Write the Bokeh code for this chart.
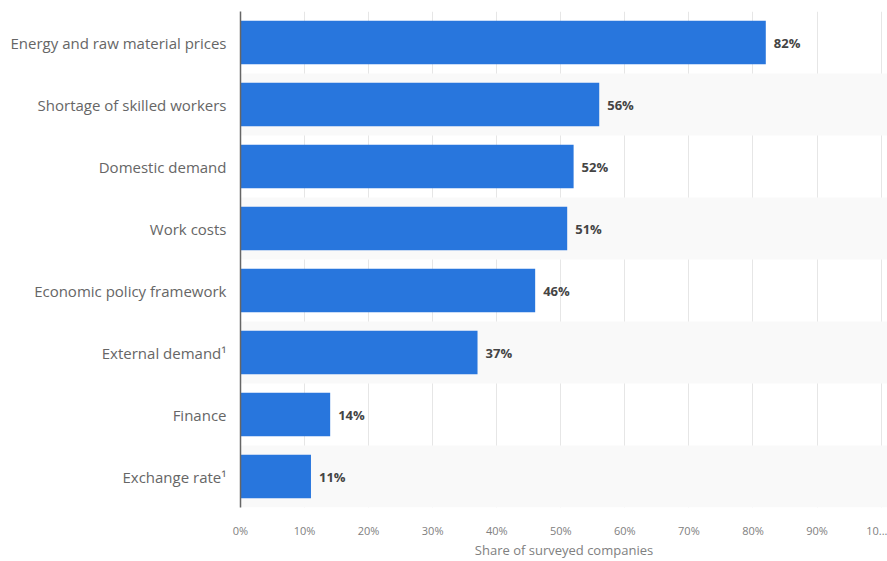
from bokeh.plotting import figure
from bokeh.models import ColumnDataSource, FixedTicker, Range1d, FactorRange
from bokeh.core.properties import value
from bokeh.embed import file_html
from bokeh.resources import INLINE

categories = [
    "Energy and raw material prices",
    "Shortage of skilled workers",
    "Domestic demand",
    "Work costs",
    "Economic policy framework",
    "External demand¹",
    "Finance",
    "Exchange rate¹",
]
shares = [82, 56, 52, 51, 46, 37, 14, 11]
x_ticks = [0, 10, 20, 30, 40, 50, 60, 70, 80, 90, 100]
x_tick_labels = ["0%", "10%", "20%", "30%", "40%", "50%", "60%", "70%", "80%", "90%", "10..."]

FONT = "Open Sans"
y_order = list(reversed(categories))

src = ColumnDataSource(dict(
    cat=categories,
    share=shares,
    label=[f"{v}%" for v in shares],
))
band_cats = [c for i, c in enumerate(categories) if i % 2 == 1]
band_src = ColumnDataSource(dict(cat=band_cats, left=[0] * len(band_cats), right=[200] * len(band_cats)))

p = figure(
    width=887, height=561,
    y_range=FactorRange(factors=y_order, range_padding=0),
    x_range=Range1d(0, 101),
    output_backend="svg", toolbar_location=None,
    min_border_left=240, min_border_right=0, min_border_top=11, min_border_bottom=40,
)
p.outline_line_color = None
p.background_fill_color = "white"

p.hbar(y="cat", left="left", right="right", height=1.0, source=band_src,
       fill_color="#f9f9f9", line_color=None)
p.hbar(y="cat", left=0, right="share", height=0.7, source=src,
       fill_color="#2876dd", line_color=None)
p.text(x="share", y="cat", text="label", source=src, x_offset=8,
       text_font=value(FONT), text_font_style="bold", text_font_size="13px",
       text_color="#444444", text_baseline="middle", text_align="left")

p.ygrid.grid_line_color = None
p.xgrid.grid_line_color = "#e6e6e6"
p.xgrid.grid_line_width = 1
p.xgrid.ticker = FixedTicker(ticks=x_ticks)

p.xaxis.ticker = FixedTicker(ticks=x_ticks)
p.xaxis.major_label_overrides = {t: l for t, l in zip(x_ticks, x_tick_labels)}
p.xaxis.axis_line_color = None
p.xaxis.major_tick_line_color = None
p.xaxis.minor_tick_line_color = None
p.xaxis.major_tick_in = 0
p.xaxis.major_tick_out = 0
p.xaxis.major_label_text_font = FONT
p.xaxis.major_label_text_font_size = "11px"
p.xaxis.major_label_text_color = "#808080"
p.xaxis.major_label_standoff = 15
p.xaxis.axis_label = "Share of surveyed companies"
p.xaxis.axis_label_text_font = FONT
p.xaxis.axis_label_text_font_size = "13px"
p.xaxis.axis_label_text_font_style = "normal"
p.xaxis.axis_label_text_color = "#808080"
p.xaxis.axis_label_standoff = 0

p.yaxis.axis_line_color = "#666666"
p.yaxis.axis_line_width = 1.5
p.yaxis.major_tick_line_color = None
p.yaxis.minor_tick_line_color = None
p.yaxis.major_tick_in = 0
p.yaxis.major_tick_out = 0
p.yaxis.major_label_text_font = FONT
p.yaxis.major_label_text_font_size = "15px"
p.yaxis.major_label_text_color = "#666666"
p.yaxis.major_label_standoff = 14

open("out.html", "w").write(file_html(p, INLINE))
